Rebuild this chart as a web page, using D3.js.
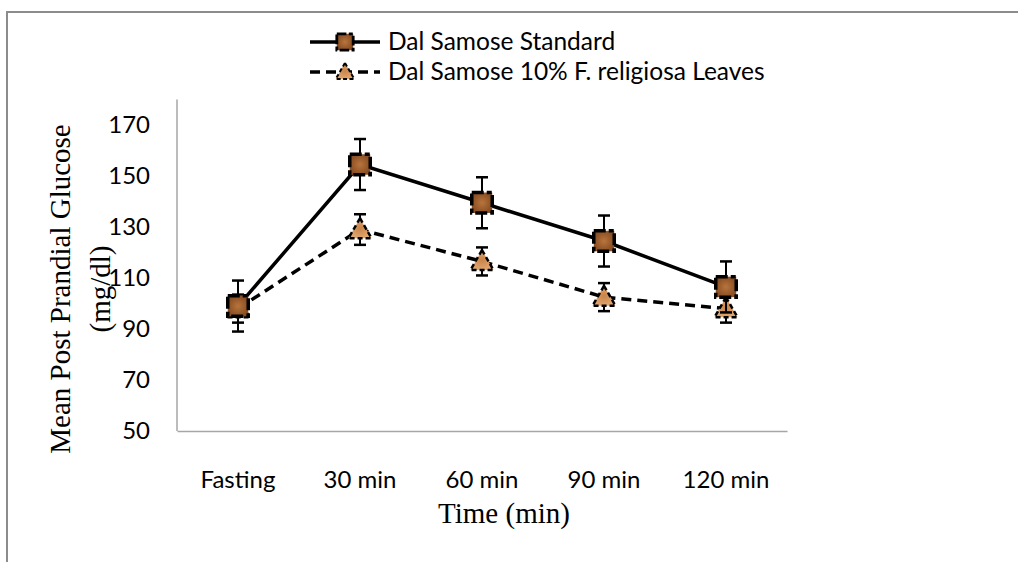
<!DOCTYPE html>
<html>
<head>
<meta charset="utf-8">
<script src="https://cdn.jsdelivr.net/npm/d3@7"></script>
<style>
  body { margin: 0; background: #fff; }
  svg { display: block; }
  .tick text { font-family: Lato, "Open Sans", sans-serif; fill: #000; }
</style>
</head>
<body>
<div id="chart"></div>
<script>
// chart data
var timePoints = ["Fasting", "30 min", "60 min", "90 min", "120 min"];
var standardMean = [99, 154.5, 139.5, 124.5, 106.5];
var standardErr = [10, 10, 10, 10, 10];
var leavesMean = [98, 129, 116.5, 102.5, 98];
var leavesErr = [5.5, 6, 5.5, 5.5, 5.5];
var yTicks = [50, 70, 90, 110, 130, 150, 170];
var seriesNames = ["Dal Samose Standard", "Dal Samose 10% F. religiosa Leaves"];

var W = 1018, H = 562;
var plot = { left: 177, right: 787, top: 99.5, bottom: 431 };

var svg = d3.select("#chart").append("svg")
  .attr("width", W)
  .attr("height", H);

// gradients for the picture-like marker fills
var defs = svg.append("defs");
var g1 = defs.append("radialGradient").attr("id", "sqFill");
g1.append("stop").attr("offset", "0%").attr("stop-color", "#b8743c");
g1.append("stop").attr("offset", "100%").attr("stop-color", "#8a4f24");
var g2 = defs.append("radialGradient").attr("id", "triFill");
g2.append("stop").attr("offset", "0%").attr("stop-color", "#c98348");
g2.append("stop").attr("offset", "100%").attr("stop-color", "#e0a770");

// outer frame (top and left edges only)
svg.append("path")
  .attr("d", "M7,562 L7,12 L1018,12")
  .attr("fill", "none")
  .attr("stroke", "#8c8c8c")
  .attr("stroke-width", 2);

var x = d3.scaleBand()
  .domain(timePoints)
  .range([plot.left, plot.right]);

var y = d3.scaleLinear()
  .domain([50, 180])
  .range([plot.bottom, plot.top]);

function cx(d) { return x(d) + x.bandwidth() / 2; }

// axes
var xAxis = svg.append("g")
  .attr("transform", "translate(0," + plot.bottom + ")")
  .call(d3.axisBottom(x).tickSize(0).tickPadding(40));
xAxis.select(".domain").attr("stroke", "#a6a6a6").attr("stroke-width", 1.5);
xAxis.selectAll("text").attr("font-size", 24);

var yAxis = svg.append("g")
  .attr("transform", "translate(" + plot.left + ",0)")
  .call(d3.axisLeft(y).tickValues(yTicks).tickSize(0).tickPadding(27));
yAxis.select(".domain").attr("stroke", "#a6a6a6").attr("stroke-width", 1.5)
  .attr("d", "M0," + plot.bottom + "V" + plot.top);
yAxis.selectAll("text").attr("font-size", 24);

// axis titles
svg.append("text")
  .attr("x", (plot.left + plot.right) / 2 + 22)
  .attr("y", 523)
  .attr("text-anchor", "middle")
  .attr("font-family", "'Liberation Serif', 'Times New Roman', serif")
  .attr("font-size", 29)
  .text("Time (min)");

var yTitle = svg.append("text")
  .attr("transform", "translate(61,289) rotate(-90)")
  .attr("text-anchor", "middle")
  .attr("font-family", "'Liberation Serif', 'Times New Roman', serif")
  .attr("font-size", 29);
yTitle.append("tspan").attr("x", 0).attr("y", 9).text("Mean Post Prandial Glucose");
yTitle.append("tspan").attr("x", 0).attr("y", 49).text("(mg/dl)");

// build series
var series = [
  { name: seriesNames[0], mean: standardMean, err: standardErr, dash: null, shape: "square" },
  { name: seriesNames[1], mean: leavesMean, err: leavesErr, dash: "10,6", shape: "triangle" }
];

var line = d3.line()
  .x(function(d) { return cx(d.t); })
  .y(function(d) { return y(d.v); });

var sq = d3.symbol().type(d3.symbolSquare).size(420);
var tri = d3.symbol().type(d3.symbolTriangle).size(230);

function drawMarker(sel, shape) {
  if (shape == "square") {
    sel.append("path")
      .attr("d", sq())
      .attr("fill", "url(#sqFill)")
      .attr("stroke", "#000")
      .attr("stroke-width", 3.5)
      .attr("stroke-dasharray", "12,3,5,3");
  } else {
    sel.append("path")
      .attr("d", tri())
      .attr("transform", "translate(0,2)")
      .attr("fill", "url(#triFill)")
      .attr("stroke", "#000")
      .attr("stroke-width", 2.5)
      .attr("stroke-dasharray", "5,3");
  }
}

// draw dashed series first so the standard one sits on top, like the picture
series.slice().reverse().forEach(function(s) {
  var pts = s.mean.map(function(v, i) { return { t: timePoints[i], v: v, e: s.err[i] }; });

  svg.append("path")
    .datum(pts)
    .attr("d", line)
    .attr("fill", "none")
    .attr("stroke", "#000")
    .attr("stroke-width", 3.5)
    .attr("stroke-dasharray", s.dash);

  // error bars
  var eb = svg.append("g").selectAll("g")
    .data(pts)
    .enter()
    .append("g");
  eb.append("line")
    .attr("x1", function(d) { return cx(d.t); })
    .attr("x2", function(d) { return cx(d.t); })
    .attr("y1", function(d) { return y(d.v + d.e); })
    .attr("y2", function(d) { return y(d.v - d.e); })
    .attr("stroke", "#000").attr("stroke-width", 2);
  [1, -1].forEach(function(sign) {
    eb.append("line")
      .attr("x1", function(d) { return cx(d.t) - 6; })
      .attr("x2", function(d) { return cx(d.t) + 6; })
      .attr("y1", function(d) { return y(d.v + sign * d.e); })
      .attr("y2", function(d) { return y(d.v + sign * d.e); })
      .attr("stroke", "#000").attr("stroke-width", 2.5);
  });

  // markers
  svg.append("g").selectAll("g")
    .data(pts)
    .enter()
    .append("g")
    .attr("transform", function(d) { return "translate(" + cx(d.t) + "," + y(d.v) + ")"; })
    .each(function() { drawMarker(d3.select(this), s.shape); });
});

// legend
var legend = svg.append("g");
series.forEach(function(s, i) {
  var ly = 42 + i * 30;
  legend.append("line")
    .attr("x1", 310).attr("x2", 380)
    .attr("y1", ly).attr("y2", ly)
    .attr("stroke", "#000")
    .attr("stroke-width", 3.5)
    .attr("stroke-dasharray", s.dash);
  var m = legend.append("g").attr("transform", "translate(345," + ly + ") scale(0.8)");
  drawMarker(m, s.shape);
  legend.append("text")
    .attr("x", 388)
    .attr("y", ly + 8)
    .attr("font-family", "Lato, 'Open Sans', sans-serif")
    .attr("font-size", 24.5)
    .text(s.name);
});
</script>
</body>
</html>
